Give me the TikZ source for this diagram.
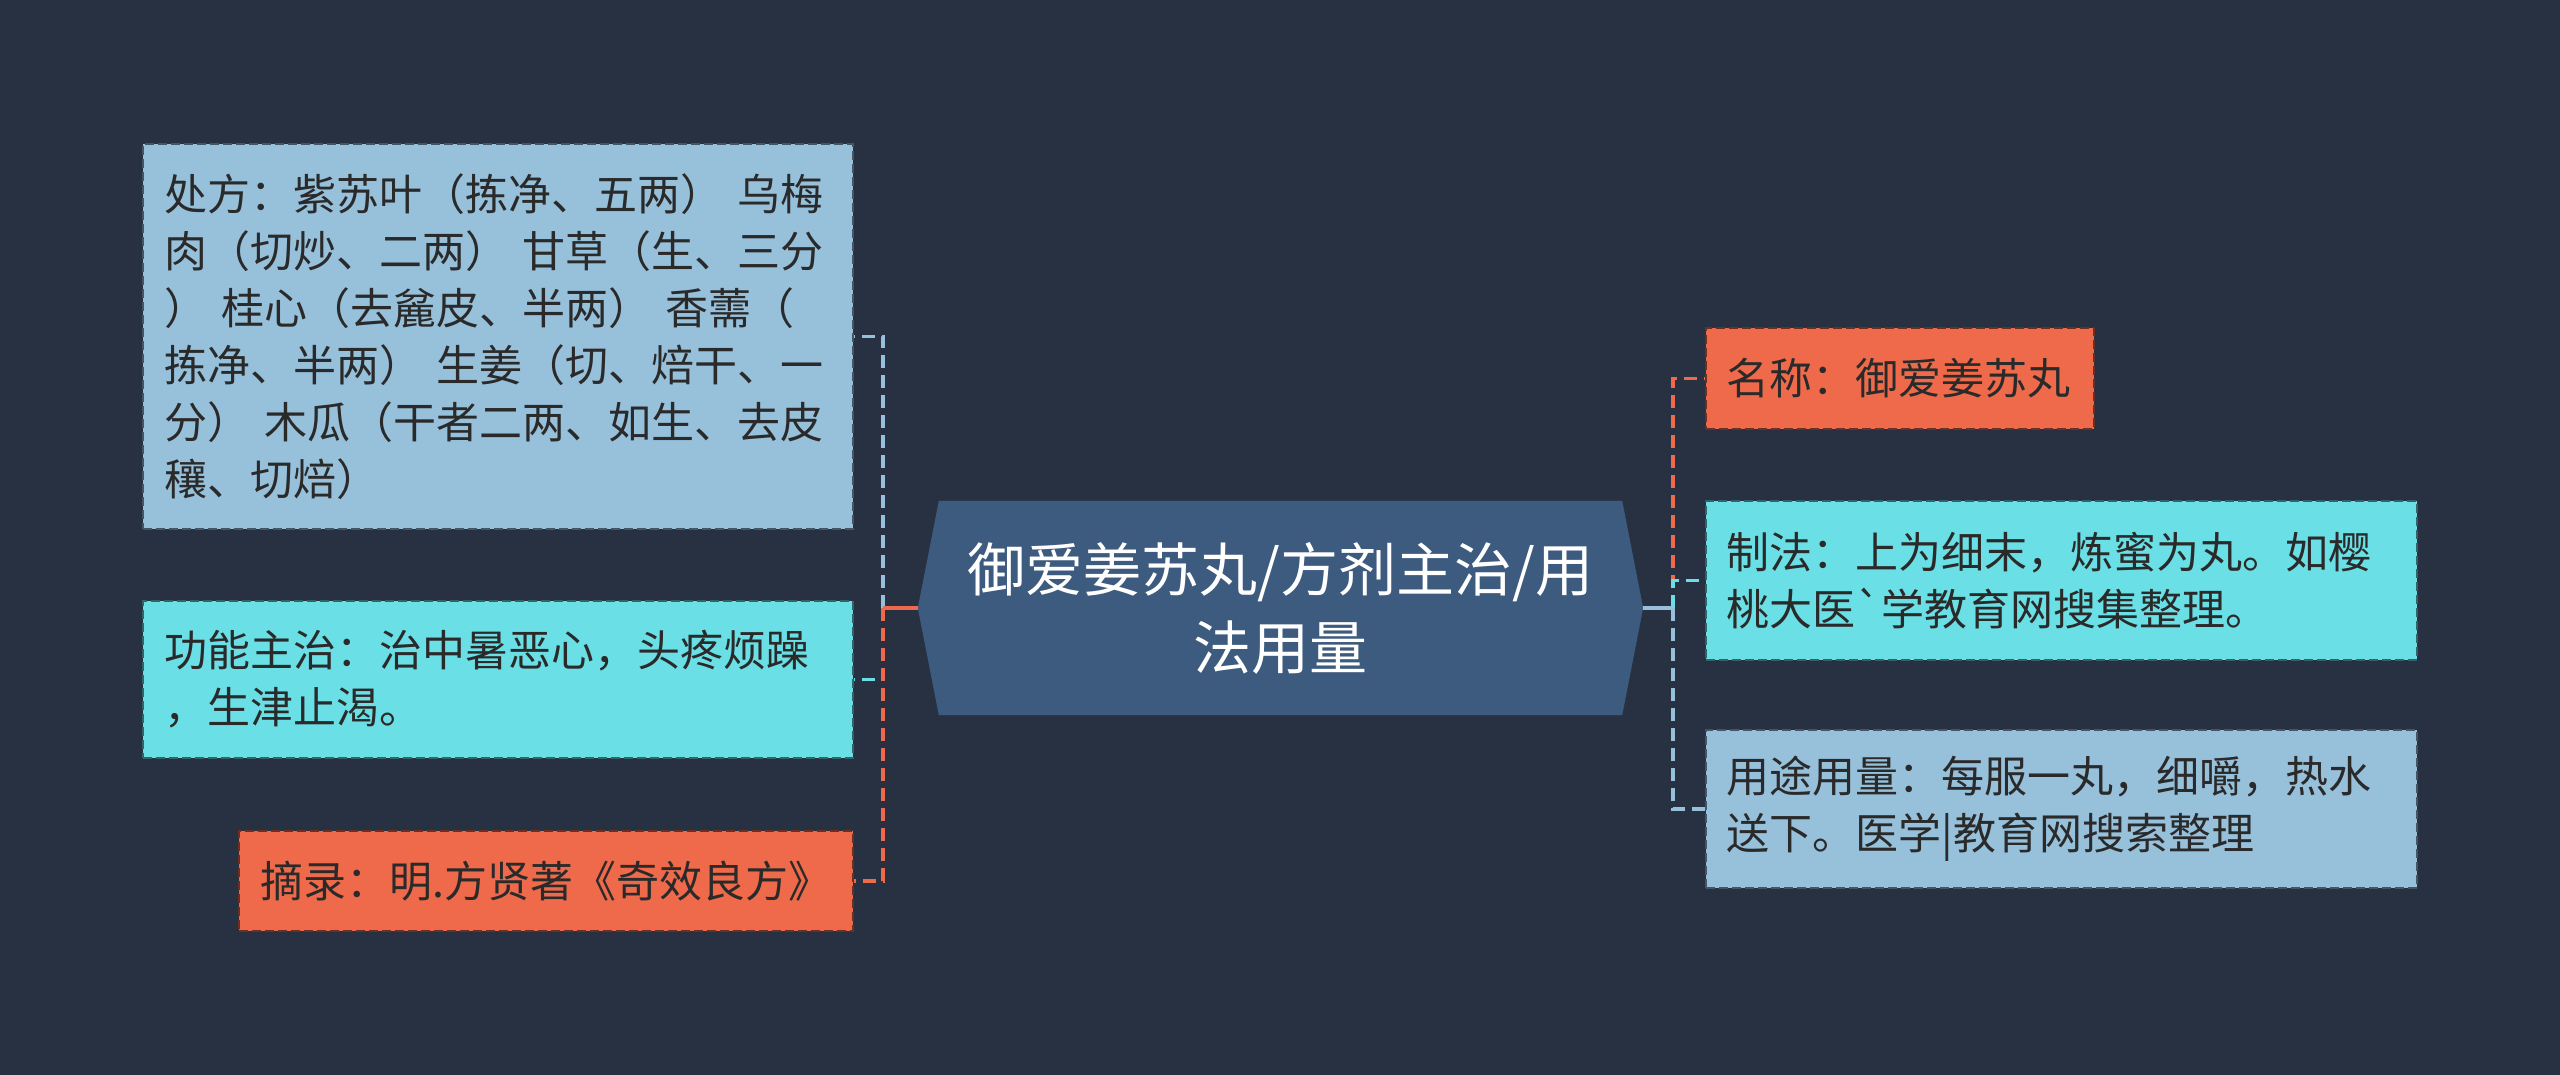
\documentclass[tikz,border=0pt]{standalone}
\usepackage{fontspec}
\usepackage{tikz}
\usetikzlibrary{backgrounds}
\newfontfamily\cjk{Noto Sans CJK SC}
\definecolor{bgdark}{HTML}{283142}
\definecolor{hubblue}{HTML}{3D5A7F}
\definecolor{leafblue}{HTML}{97C0DB}
\definecolor{leafcyan}{HTML}{6ADFE5}
\definecolor{leaforange}{HTML}{EE6A4B}
\definecolor{ink}{HTML}{2A2A2A}
\tikzset{
  topic/.style={font=\cjk\fontsize{58}{78}\selectfont,text=white,align=center,
    text width=690pt,minimum width=725pt,minimum height=214pt,inner sep=0pt},
  leaf/.style={rectangle,fill=#1,draw=#1!45!black,dash pattern=on 9pt off 4pt,
    line width=1.8pt,text=ink,font=\cjk\fontsize{43}{57}\selectfont,align=left,
    inner xsep=21pt,inner ysep=0pt},
  link/.style={draw=#1,line width=3.5pt,dash pattern=on 13pt off 7pt},
  stub/.style={draw=#1,line width=3.5pt},
}
\begin{document}
\begin{tikzpicture}[x=1pt,y=-1pt]
  \node[topic] (hub) at (1280.5,608) {御爱姜苏丸/方剂主治/用\\法用量};
  \node[leaf=leafblue,text width=668pt,minimum height=385pt,anchor=east] (chufang) at (854,336.5)
    {处方：紫苏叶（拣净、五两） 乌梅\\肉（切炒、二两） 甘草（生、三分\\） 桂心（去麄皮、半两） 香薷（\\拣净、半两） 生姜（切、焙干、一\\分） 木瓜（干者二两、如生、去皮\\穰、切焙）};
  \node[leaf=leafcyan,text width=668pt,minimum height=157pt,anchor=east] (gongneng) at (854,679.5)
    {功能主治：治中暑恶心，头疼烦躁\\，生津止渴。};
  \node[leaf=leaforange,text width=572pt,minimum height=100pt,anchor=east] (zhailu) at (854,881)
    {摘录：明.方贤著《奇效良方》};
  \node[leaf=leaforange,text width=346pt,minimum height=101pt,anchor=west] (mingcheng) at (1705,378.5)
    {名称：御爱姜苏丸};
  \node[leaf=leafcyan,text width=669pt,minimum height=159pt,anchor=west] (zhifa) at (1705,580.5)
    {制法：上为细末，炼蜜为丸。如樱\\桃大医\textasciigrave 学教育网搜集整理。};
  \node[leaf=leafblue,text width=669pt,minimum height=158pt,anchor=west] (yongtu) at (1705,809)
    {用途用量：每服一丸，细嚼，热水\\送下。医学|教育网搜索整理};
  \begin{scope}[on background layer]
    \fill[bgdark] (0,0) rectangle (2560,1075);
    \fill[hubblue] (hub.west) -- ([xshift=21pt]hub.north west) -- ([xshift=-21pt]hub.north east)
      -- (hub.east) -- ([xshift=-21pt]hub.south east) -- ([xshift=21pt]hub.south west) -- cycle;
  \end{scope}
  \coordinate (lj) at (883,608);
  \coordinate (rj) at (1673,608);
  \draw[link=leafblue] (lj) |- (chufang.east);
  \draw[link=leafcyan] (lj) |- (gongneng.east);
  \draw[link=leaforange] (lj) |- (zhailu.east);
  \draw[stub=leaforange] (hub.west) -- (lj);
  \draw[link=leaforange] (rj) |- (mingcheng.west);
  \draw[link=leafcyan] (rj) |- (zhifa.west);
  \draw[link=leafblue] (rj) |- (yongtu.west);
  \draw[stub=leafblue] (hub.east) -- (rj);
\end{tikzpicture}
\end{document}
